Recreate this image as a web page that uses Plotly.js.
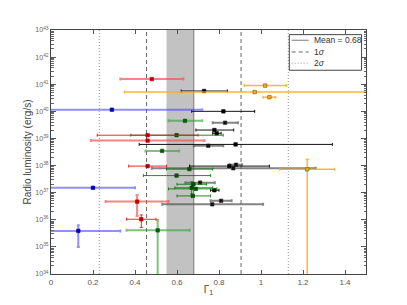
<!DOCTYPE html>
<html>
<head>
<meta charset="utf-8">
<script src="https://cdn.plot.ly/plotly-3.0.1.min.js"></script>
<style>html,body{margin:0;padding:0;background:#fff}#chart{width:407px;height:305px}</style>
</head>
<body>
<div id="chart"></div>
<script>
// ---- data (x = Gamma_1, logL = log10 radio luminosity) ----
const meanGamma = 0.68;
const sigmaGamma = 0.225;
const bandRange = [0.55, 0.68];
const legendLabels = ['Mean = 0.68', '1<i>σ</i>', '2<i>σ</i>'];

const redFaintX = [0.48, 0.46, 0.41];
const redFaintLogL = [41.19, 38.92, 36.67];
const redFaintXlo = [0.33, 0.19, 0.26];
const redFaintXhi = [0.63, 0.73, 0.56];
const redFaintYlo = [null, null, 36.14];
const redFaintYhi = [null, null, 36.91];

const redX = [0.46, 0.46, 0.43];
const redLogL = [39.12, 37.98, 36.02];
const redXlo = [0.22, 0.37, 0.36];
const redXhi = [0.70, 0.55, 0.50];
const redYlo = [null, null, 35.72];
const redYhi = [null, null, 36.18];

const orangeX = [1.02, 0.97, 1.04, 1.22];
const orangeLogL = [40.95, 40.71, 40.52, 37.86];
const orangeXlo = [0.92, 0.35, 1.01, 1.09];
const orangeXhi = [1.12, 1.60, 1.07, 1.35];
const orangeYlo = [null, null, null, 30.0];
const orangeYhi = [null, null, null, 38.23];

const blueX = [0.29, 0.20, 0.13];
const blueLogL = [40.06, 37.18, 35.59];
const blueXlo = [-0.10, -0.05, -0.05];
const blueXhi = [0.72, 0.40, 0.33];
const blueYlo = [null, null, 35.00];
const blueYhi = [null, null, 35.80];

const greenFaintX = [0.638, 0.529, 0.508];
const greenFaintLogL = [39.65, 38.54, 35.61];
const greenFaintXlo = [0.56, 0.45, 0.36];
const greenFaintXhi = [0.72, 0.61, 0.66];
const greenFaintYlo = [null, null, 30.0];
const greenFaintYhi = [null, null, 35.99];

const greenX = [0.598, 0.598, 0.659, 0.678, 0.67, 0.69, 0.675];
const greenLogL = [39.12, 37.63, 37.87, 37.31, 37.18, 37.14, 36.88];
const greenXlo = [0.38, 0.44, 0.55, 0.60, 0.59, 0.56, 0.60];
const greenXhi = [0.82, 0.76, 0.77, 0.74, 0.77, 0.79, 0.76];
const greenYlo = [null, null, null, null, 36.95, null, null];
const greenYhi = [null, null, null, null, 37.40, null, null];

const blackX = [0.729, 0.821, 0.778, 0.789, 0.879, 0.849, 0.778];
const blackLogL = [40.75, 40.00, 39.31, 39.19, 38.78, 37.98, 37.09];
const blackXlo = [0.62, 0.67, 0.69, 0.77, 0.42, 0.66, 0.76];
const blackXhi = [0.84, 0.97, 0.87, 0.81, 1.34, 1.04, 0.80];

const grayX = [0.829, 0.749, 0.881, 0.868, 0.71, 0.81, 0.768];
const grayLogL = [39.58, 38.73, 38.03, 37.90, 37.37, 36.70, 36.57];
const grayXlo = [0.77, 0.68, 0.85, 0.48, 0.64, 0.76, 0.53];
const grayXhi = [0.89, 0.82, 0.91, 1.26, 0.78, 0.86, 1.01];

const xTickVals = [0, 0.2, 0.4, 0.6, 0.8, 1, 1.2, 1.4];
const xTickText = ['0', '0.2', '0.4', '0.6', '0.8', '1', '1.2', '1.4'];
const yTickExps = [34, 35, 36, 37, 38, 39, 40, 41, 42, 43];

// ---- build traces ----
function pts(x, logL, xlo, xhi, ylo, yhi, ecol, ew, mcol, mline, name) {
  const y = logL.map(v => Math.pow(10, v));
  const t = {
    type: 'scatter', mode: 'markers', x: x, y: y, showlegend: false, name: name,
    marker: {symbol: 'square', size: 3.5, color: mcol, line: {color: mline, width: 0.6}},
    error_x: {type: 'data', symmetric: false,
      array: x.map((v, i) => xhi[i] - v), arrayminus: x.map((v, i) => v - xlo[i]),
      color: ecol, thickness: ew, width: 1.5},
    cliponaxis: true
  };
  if (ylo) {
    t.error_y = {type: 'data', symmetric: false,
      array: y.map((v, i) => yhi[i] == null ? 0 : Math.pow(10, yhi[i]) - v),
      arrayminus: y.map((v, i) => ylo[i] == null ? 0 : v - Math.pow(10, ylo[i])),
      color: ecol, thickness: ew, width: 1.5};
  }
  return t;
}

const yLo = Math.pow(10, 34), yHi = Math.pow(10, 43);
const DASH = '4px,3px', DOT = '1px,2px';
const lineTrace = (xv, dash, col) => ({
  type: 'scatter', mode: 'lines', x: [xv, xv], y: [yLo, yHi], showlegend: false,
  line: {color: col, width: 1, dash: dash}, hoverinfo: 'skip'
});

const traces = [
  lineTrace(meanGamma, 'solid', '#7a7a7a'),
  lineTrace(meanGamma - sigmaGamma, DASH, '#666'),
  lineTrace(meanGamma + sigmaGamma, DASH, '#666'),
  lineTrace(meanGamma - 2 * sigmaGamma, DOT, '#999'),
  lineTrace(meanGamma + 2 * sigmaGamma, DOT, '#999'),
  pts(grayX, grayLogL, grayXlo, grayXhi, null, null, 'rgba(90,90,90,0.75)', 2, '#111', '#333', 'gray'),
  pts(blackX, blackLogL, blackXlo, blackXhi, null, null, '#111', 1, '#000', '#000', 'black'),
  pts(greenFaintX, greenFaintLogL, greenFaintXlo, greenFaintXhi, greenFaintYlo, greenFaintYhi, 'rgba(60,160,60,0.65)', 2, '#0a5a0a', '#0a5a0a', 'greenFaint'),
  pts(greenX, greenLogL, greenXlo, greenXhi, greenYlo, greenYhi, 'rgba(0,120,0,0.85)', 1, '#064d06', '#064d06', 'green'),
  pts(blueX, blueLogL, blueXlo, blueXhi, blueYlo, blueYhi, 'rgba(70,70,245,0.6)', 2, '#0000b0', '#0000b0', 'blue'),
  pts(orangeX, orangeLogL, orangeXlo, orangeXhi, orangeYlo, orangeYhi, 'rgba(255,170,20,0.85)', 1.5, '#f5a623', '#8a5a00', 'orange'),
  pts(redFaintX, redFaintLogL, redFaintXlo, redFaintXhi, redFaintYlo, redFaintYhi, 'rgba(245,80,80,0.7)', 2, '#c00000', '#c00000', 'redFaint'),
  pts(redX, redLogL, redXlo, redXhi, redYlo, redYhi, 'rgba(230,20,20,0.9)', 1, '#b00000', '#b00000', 'red')
];

// minor tick values for log axis (2..9 x 10^n)
const minorVals = [];
for (let e = 34; e < 43; e++) for (let m = 2; m <= 9; m++) minorVals.push(m * Math.pow(10, e));

// custom legend (box, line samples, labels)
const legRows = [0.958, 0.910, 0.864];
const legDash = ['solid', 'dash', 'dot'];
const legCol = ['#7a7a7a', '#666', '#999'];
const shapes = [
  {type: 'rect', xref: 'x', yref: 'paper', x0: bandRange[0], x1: bandRange[1], y0: 0, y1: 1,
    fillcolor: '#c2c2c2', line: {width: 0}, layer: 'below'},
  {type: 'rect', xref: 'paper', yref: 'paper', x0: 0.7565, x1: 0.986, y0: 0.835, y1: 0.981,
    fillcolor: '#fff', line: {color: '#444', width: 1}, layer: 'above'}
];
const annotations = [];
legRows.forEach((yy, i) => {
  shapes.push({type: 'line', xref: 'paper', yref: 'paper', x0: 0.764, x1: 0.818, y0: yy, y1: yy,
    line: {color: legCol[i], width: 1, dash: legDash[i] === 'dash' ? DASH : (legDash[i] === 'dot' ? DOT : 'solid')}, layer: 'above'});
  annotations.push({xref: 'paper', yref: 'paper', x: 0.829, y: yy, xanchor: 'left', yanchor: 'middle',
    text: legendLabels[i], showarrow: false, font: {size: 8.5, color: '#333'}});
});

const layout = {
  width: 407, height: 305,
  margin: {l: 51, r: 41, t: 30, b: 31, pad: 0},
  paper_bgcolor: '#fff', plot_bgcolor: '#fff',
  font: {family: 'Liberation Sans, Arial, sans-serif', size: 8, color: '#555'},
  showlegend: false,
  xaxis: {range: [0, 1.5], tickmode: 'array', tickvals: xTickVals, ticktext: xTickText,
    ticks: 'inside', ticklen: 4, tickcolor: '#555', showline: true, linecolor: '#444', linewidth: 1,
    mirror: 'ticks', showgrid: false, zeroline: false,
    tickfont: {size: 8, color: '#555'},
    title: {text: 'Γ<sub>1</sub>', font: {size: 10, color: '#444'}, standoff: 0}, automargin: false},
  yaxis: {type: 'log', range: [34, 43], tickmode: 'array',
    tickvals: yTickExps.map(e => Math.pow(10, e)),
    ticktext: yTickExps.map(e => '10<sup>' + e + '</sup>'),
    ticks: 'inside', ticklen: 5, tickcolor: '#555', showline: true, linecolor: '#444', linewidth: 1,
    mirror: 'ticks', showgrid: false, zeroline: false,
    minor: {ticks: 'inside', ticklen: 2.5, tickcolor: '#666', tickmode: 'array', tickvals: minorVals, showgrid: false},
    tickfont: {size: 7, color: '#666'},
    title: {text: 'Radio luminosity (erg/s)', font: {size: 10, color: '#444'}, standoff: 1}, automargin: false},
  shapes: shapes,
  annotations: annotations
};

Plotly.newPlot('chart', traces, layout, {displayModeBar: false, staticPlot: true});
</script>
</body>
</html>
